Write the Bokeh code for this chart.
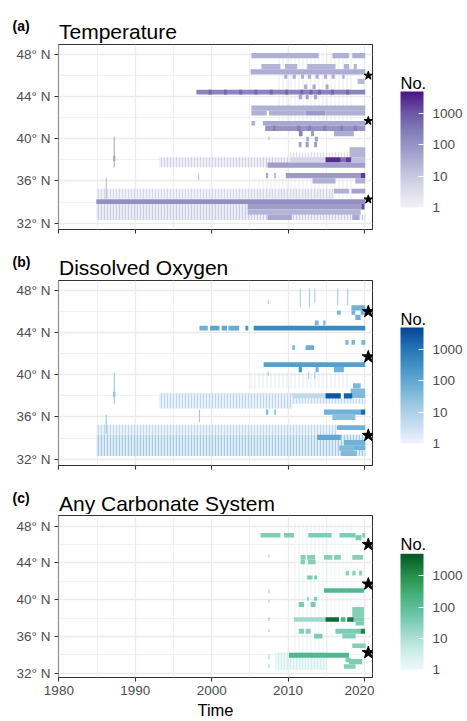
import numpy as np
from bokeh.plotting import figure
from bokeh.layouts import column, row
from bokeh.models import (ColumnDataSource, LogColorMapper, ColorBar, FixedTicker,
                          Range1d, BasicTickFormatter)
from bokeh.core.properties import value
from bokeh.transform import transform
from bokeh.embed import file_html
from bokeh.resources import INLINE

# ---------------- data ----------------
year_ticks = [1980, 1990, 2000, 2010, 2020]
year_minor = [1985, 1995, 2005, 2015]
lat_ticks = [32, 36, 40, 44, 48]
lat_minor = [34, 38, 42, 46]
lat_labels = ["32° N", "36° N", "40° N", "44° N", "48° N"]
legend_ticks = [1, 10, 100, 1000]
star_t = [2020.5, 2020.5, 2020.5]
star_lat = [46.0, 41.7, 34.25]

# ---- (a) Temperature: blocks of observations ----
a_t0 = [2005.2, 2015.8, 2018.4, 2006.5, 2009.6, 2012.5, 2017.3, 2018.6, 2005.1,
        2009.5, 2010.6, 2011.7, 2012.6, 2013.6, 2014.7, 2015.7, 2017.1, 2019.1,
        2012.1, 2013.2, 2014.9, 1998.0,
        1999.6, 2001.6, 2003.6, 2005.6, 2007.6, 2009.6, 2011.6, 2012.8, 2013.9, 2015.6, 2017.6,
        2011.4, 2012.3, 2013.4, 2005.2, 2005.2, 2007.5, 2012.3, 2014.9, 2005.2, 2006.7, 2007.0,
        2008.0, 2011.2, 2012.6, 2014.6, 2016.8, 2018.6,
        2011.4, 2013.0, 2016.0, 2012.4, 2013.5, 2011.4, 2012.3, 2013.4, 2018.05,
        2010.3, 2014.9, 2016.9, 2017.5, 2018.3, 2007.3, 2007.1, 2008.2, 2009.7, 2019.5,
        2013.2, 2018.8, 2016.0, 2018.3, 1984.9, 2004.7, 2019.6, 2004.7, 2007.3, 2018.4, 1987.1]
a_t1 = [2014.0, 2018.0, 2020.1, 2009.0, 2011.2, 2016.2, 2018.0, 2019.0, 2020.1,
        2009.9, 2011.0, 2012.1, 2013.0, 2014.0, 2015.1, 2016.1, 2017.4, 2020.0,
        2012.5, 2013.6, 2015.3, 2020.1,
        2000.0, 2002.0, 2004.0, 2006.0, 2008.0, 2010.0, 2012.0, 2013.2, 2014.3, 2016.0, 2018.0,
        2011.8, 2012.7, 2013.8, 2020.1, 2007.2, 2012.3, 2014.9, 2020.1, 2005.7, 2020.1, 2020.1,
        2008.4, 2011.6, 2013.0, 2015.0, 2017.2, 2019.0,
        2011.9, 2013.4, 2018.6, 2012.7, 2013.9, 2011.75, 2012.7, 2013.8, 2020.1,
        2014.9, 2016.9, 2017.5, 2018.3, 2020.1, 2020.1, 2007.4, 2008.4, 2019.5, 2020.1,
        2016.2, 2020.1, 2018.0, 2020.1, 2020.1, 2019.6, 2020.0, 2019.5, 2010.5, 2019.3, 1987.4]
a_lat0 = [47.65, 47.65, 47.65, 46.6, 46.6, 46.6, 46.6, 46.6, 46.1,
          45.7, 45.7, 45.7, 45.7, 45.7, 45.7, 45.7, 45.7, 45.2,
          44.7, 44.7, 44.7, 44.2,
          44.2, 44.2, 44.2, 44.2, 44.2, 44.2, 44.2, 44.2, 44.2, 44.2, 44.2,
          43.75, 43.75, 43.75, 42.65, 42.2, 42.2, 42.2, 42.2, 41.25, 41.25, 40.75,
          40.75, 40.75, 40.75, 40.75, 40.75, 40.75,
          40.25, 40.25, 40.25, 39.75, 39.75, 39.2, 39.2, 39.2, 38.25,
          37.75, 37.75, 37.75, 37.75, 37.75, 37.25, 36.25, 36.25, 36.25, 36.25,
          35.75, 35.75, 34.8, 34.8, 33.8, 33.3, 33.3, 32.8, 32.3, 32.3, 37.9]
a_lat1 = [48.15, 48.15, 48.15, 47.1, 47.1, 47.1, 47.1, 47.1, 46.6,
          46.1, 46.1, 46.1, 46.1, 46.1, 46.1, 46.1, 46.1, 45.7,
          45.15, 45.15, 45.15, 44.65,
          44.65, 44.65, 44.65, 44.65, 44.65, 44.65, 44.65, 44.65, 44.65, 44.65, 44.65,
          44.2, 44.2, 44.2, 43.15, 42.65, 42.65, 42.65, 42.65, 41.7, 41.7, 41.25,
          41.25, 41.25, 41.25, 41.25, 41.25, 41.25,
          40.75, 40.75, 40.75, 40.2, 40.2, 39.7, 39.7, 39.7, 39.2,
          38.25, 38.25, 38.25, 38.25, 38.25, 37.75, 36.75, 36.75, 36.75, 36.75,
          36.25, 36.25, 35.25, 35.25, 34.25, 33.8, 33.8, 33.3, 32.8, 32.8, 38.4]
a_n = [30, 30, 30, 25, 25, 25, 25, 25, 35,
       35, 35, 35, 35, 35, 35, 35, 35, 20,
       40, 40, 40, 200,
       600, 600, 600, 600, 600, 600, 600, 600, 600, 600, 600,
       50, 50, 50, 30, 30, 30, 70, 30, 30, 40, 100,
       250, 250, 250, 250, 250, 250,
       200, 60, 35, 60, 60, 60, 60, 60, 25,
       5, 3000, 400, 2000, 15, 60, 40, 40, 70, 2000,
       30, 30, 30, 50, 120, 60, 1500, 25, 40, 40, 40]

# (a) striped regions (repeated cruise lines)
a_st_t0 = [1984.9, 2004.7, 1984.9, 1993.1, 2010.3]
a_st_t1 = [2004.7, 2020.1, 2016.0, 2010.3, 2020.1]
a_st_lat0 = [32.3, 32.3, 34.3, 37.3, 38.25]
a_st_lat1 = [33.8, 32.8, 35.25, 38.25, 38.7]
a_st_n = [8, 8, 5, 6, 4]
a_st_bg = [3, 2, 2, 2, 1]
# (a) faint scattered profiles
a_fa_t0 = [2008.5, 2006.0]
a_fa_t1 = [2018.5, 2018.5]
a_fa_lat0 = [41.7, 34.3]
a_fa_lat1 = [48.2, 36.2]
a_fa_n = [4, 4]

# (a) isolated thin profiles
a_ln_t = [1987.25, 1986.2, 1998.3, 2007.5]
a_ln_lat0 = [37.3, 34.3, 36.1, 39.9]
a_ln_lat1 = [40.2, 36.3, 36.7, 40.2]
a_ln_n = [40, 20, 15, 30]

# ---- (b) Dissolved Oxygen ----
b_t0 = [2018.3, 2018.3, 2019.5, 2018.8, 2016.4, 2013.5, 2014.6,
        1998.4, 1999.8, 2001.3, 2002.2, 2004.4, 2005.5,
        2017.5, 2018.3, 2019.6, 2010.55, 2012.3, 2006.8, 2011.4, 2013.6, 2016.0,
        2018.5, 2018.2, 2010.55, 2014.9, 2017.3, 2007.1, 2008.2, 2014.7, 2019.5,
        2015.8, 2016.4, 2013.8, 2017.3, 2018.6, 2016.7, 2016.9, 1987.1]
b_t1 = [2020.1, 2018.8, 2020.1, 2019.5, 2016.9, 2014.0, 2014.9,
        1999.5, 2001.0, 2002.0, 2003.6, 2004.8, 2020.1,
        2017.9, 2018.75, 2020.1, 2010.9, 2013.4, 2020.1, 2011.8, 2014.0, 2017.3,
        2019.5, 2020.1, 2014.9, 2016.9, 2018.4, 2007.4, 2008.4, 2019.5, 2020.1,
        2018.8, 2020.1, 2016.9, 2020.1, 2020.1, 2018.6, 2019.0, 1987.4]
b_lat0 = [46.1, 45.7, 45.7, 45.2, 45.7, 44.7, 44.7,
          44.2, 44.2, 44.2, 44.2, 44.2, 44.2,
          42.85, 42.85, 42.85, 42.35, 42.35, 40.75, 40.25, 40.25, 40.25,
          38.7, 37.8, 37.75, 37.75, 37.75, 36.2, 36.2, 36.2, 36.2,
          35.7, 34.75, 33.8, 33.3, 32.85, 32.8, 32.3, 37.9]
b_lat1 = [46.6, 46.1, 46.1, 45.7, 46.1, 45.15, 45.15,
          44.65, 44.65, 44.65, 44.65, 44.65, 44.65,
          43.3, 43.3, 43.3, 42.8, 42.8, 41.2, 40.75, 40.75, 40.75,
          39.2, 38.7, 38.25, 38.25, 38.25, 36.7, 36.7, 36.7, 36.7,
          36.2, 35.2, 34.3, 33.8, 33.3, 33.3, 32.8, 38.4]
b_n = [60, 60, 60, 60, 40, 50, 50,
       60, 120, 100, 80, 200, 400,
       50, 50, 50, 40, 70, 150, 300, 50, 60,
       40, 40, 5, 3000, 2000, 40, 40, 60, 1500,
       30, 60, 100, 60, 60, 40, 40, 25]

b_st_t0 = [1984.9, 1984.9, 1993.1, 2010.55]
b_st_t1 = [2020.1, 2016.4, 2010.55, 2020.1]
b_st_lat0 = [32.3, 34.3, 36.8, 37.25]
b_st_lat1 = [34.3, 35.25, 38.25, 37.75]
b_st_n = [15, 5, 6, 5]
b_st_bg = [4, 2, 2, 2]
b_fa_t0 = [2005.0]
b_fa_t1 = [2018.0]
b_fa_lat0 = [38.7]
b_fa_lat1 = [40.2]
b_fa_n = [4]

b_ln_t = [2011.6, 2012.8, 2013.5, 2016.5, 2017.8, 2007.4, 1987.25, 1986.2, 1998.4,
          2007.4, 2013.5, 2012.7]
b_ln_lat0 = [46.4, 46.4, 46.8, 46.6, 46.6, 46.7, 37.25, 34.4, 35.5, 39.9, 39.6, 39.6]
b_ln_lat1 = [48.2, 48.2, 48.2, 48.2, 48.2, 47.1, 40.2, 36.2, 36.7, 40.3, 40.3, 40.3]
b_ln_n = [12, 12, 12, 12, 12, 12, 20, 20, 15, 20, 15, 15]

# ---- (c) Any Carbonate System ----
c_t0 = [2006.4, 2009.46, 2012.64, 2016.74, 2018.84, 2019.7,
        2011.64, 2012.51, 2014.7, 2016.0, 2018.4, 2011.64, 2012.6,
        2017.53, 2018.4, 2019.28, 2012.5, 2013.43, 2014.7,
        2012.5, 2013.4, 2011.4, 2012.95, 2018.4,
        2010.77, 2014.9, 2016.9, 2017.75, 2018.6, 2018.84,
        2011.42, 2012.3, 2016.2, 2019.5, 2013.4, 2017.1, 2018.4,
        2010.11, 2017.53, 2017.97, 2017.3]
c_t1 = [2009.0, 2010.77, 2015.7, 2018.84, 2019.6, 2020.1,
        2012.3, 2013.52, 2015.8, 2016.9, 2019.8, 2012.2, 2013.6,
        2017.97, 2018.84, 2019.71, 2013.2, 2013.8, 2019.93,
        2012.7, 2013.8, 2012.1, 2013.6, 2019.93,
        2014.9, 2016.66, 2017.5, 2018.6, 2019.93, 2019.93,
        2012.08, 2012.95, 2019.5, 2020.06, 2014.5, 2018.84, 2020.15,
        2017.97, 2018.2, 2019.71, 2018.84]
c_lat0 = [46.75, 46.75, 46.75, 46.75, 46.45, 46.75,
          44.35, 44.35, 44.35, 44.35, 44.35, 43.85, 43.85,
          42.62, 42.62, 42.62, 42.2, 42.2, 40.75,
          39.9, 39.9, 39.2, 39.2, 38.1,
          37.6, 37.6, 37.6, 37.6, 37.6, 37.2,
          36.3, 36.3, 36.3, 36.3, 35.8, 35.8, 34.75,
          33.7, 33.2, 33.0, 32.5]
c_lat1 = [47.25, 47.25, 47.25, 47.25, 47.0, 47.25,
          44.85, 44.85, 44.85, 44.85, 44.85, 44.35, 44.35,
          43.16, 43.16, 43.16, 42.62, 42.62, 41.25,
          40.3, 40.3, 39.75, 39.75, 39.2,
          38.1, 38.1, 38.1, 38.1, 38.1, 37.6,
          36.85, 36.85, 36.85, 36.85, 36.3, 36.3, 35.25,
          34.25, 33.7, 33.55, 33.0]
c_n = [35, 35, 35, 35, 40, 35,
       30, 30, 30, 30, 30, 30, 30,
       25, 25, 25, 40, 40, 150,
       40, 40, 40, 40, 30,
       15, 3000, 200, 2000, 40, 40,
       30, 30, 40, 1500, 40, 30, 30,
       150, 40, 40, 30]

c_st_t0 = [2008.37]
c_st_t1 = [2015.13]
c_st_lat0 = [32.4]
c_st_lat1 = [34.3]
c_st_n = [3]
c_st_bg = [2]
c_fa_t0 = [2010.5, 2015.5]
c_fa_t1 = [2015.5, 2018.5]
c_fa_lat0 = [34.3, 37.0]
c_fa_lat1 = [48.3, 48.3]
c_fa_n = [3, 2]

c_ln_t = [2007.5, 2007.5, 2007.5, 2007.5, 2007.5, 2007.5, 2007.5]
c_ln_lat0 = [44.6, 40.7, 39.7, 37.7, 36.5, 33.5, 32.6]
c_ln_lat1 = [44.9, 41.1, 40.0, 38.1, 36.8, 34.0, 33.0]
c_ln_n = [25, 25, 25, 25, 25, 25, 25]

# colour scales (ColorBrewer, light -> dark)
purples = ['#f2f0f7', '#dadaeb', '#bcbddc', '#9e9ac8', '#807dba', '#6a51a3', '#4a1486']
blues = ['#eff3ff', '#c6dbef', '#9ecae1', '#6baed6', '#4292c6', '#2171b5', '#084594']
bugn = ['#edf8fb', '#ccece6', '#99d8c9', '#66c2a4', '#41ae76', '#238b45', '#005824']

FONT = "Liberation Sans"
W_MAIN = 374
W_LEG = 467 - W_MAIN


def smooth_palette(cols, n=256):
    rgb = np.array([[int(c[i:i + 2], 16) for i in (1, 3, 5)] for c in cols], float)
    xs = np.linspace(0, 1, len(cols))
    out = []
    for v in np.linspace(0, 1, n):
        r, g, b = (np.interp(v, xs, rgb[:, k]) for k in range(3))
        out.append("#%02x%02x%02x" % (int(round(r)), int(round(g)), int(round(b))))
    return out


def blank_fig(w, h, xr, yr):
    f = figure(frame_width=w, frame_height=h, x_range=xr, y_range=yr,
               x_axis_type=None, y_axis_type=None, output_backend="svg",
               toolbar_location=None, min_border=0,
               background_fill_color="white", border_fill_color="white")
    f.outline_line_color = None
    return f


def make_header(letter, title, h, base_letter, base_title):
    f = blank_fig(467, h, Range1d(0, 467), Range1d(h, 0))
    f.text(x=[12], y=[base_letter], text=[letter], text_font=value(FONT),
           text_font_style="bold", text_font_size="14px", text_baseline="alphabetic",
           text_color="black")
    f.text(x=[58.5], y=[base_title], text=[title], text_font=value(FONT),
           text_font_size="21px", text_baseline="alphabetic", text_color="black")
    return f


def make_panel(pal, blk, stp, fai, lns, star_size, fh, bot_b, show_x, ylo, yhi,
               cb_y, title_base):
    mapper = LogColorMapper(palette=smooth_palette(pal), low=1, high=5000)
    p = figure(frame_width=314, frame_height=fh,
               x_range=Range1d(1979.95, 2021.05), y_range=Range1d(ylo, yhi),
               output_backend="svg", toolbar_location=None,
               min_border_left=58, min_border_right=W_MAIN - 58 - 314,
               min_border_top=1, min_border_bottom=bot_b,
               background_fill_color="white", border_fill_color="white")
    p.outline_line_color = "#333333"
    p.outline_line_width = 1.1

    for g, tk, mn in ((p.xgrid, year_ticks, year_minor), (p.ygrid, lat_ticks, lat_minor)):
        g.ticker = FixedTicker(ticks=tk, minor_ticks=mn)
        g.grid_line_color = "#ebebeb"
        g.grid_line_width = 1.3
        g.minor_grid_line_color = "#ebebeb"
        g.minor_grid_line_width = 0.7

    p.xaxis.ticker = FixedTicker(ticks=year_ticks)
    p.yaxis.ticker = FixedTicker(ticks=lat_ticks)
    p.yaxis.major_label_overrides = {t: l for t, l in zip(lat_ticks, lat_labels)}
    for ax in (p.xaxis, p.yaxis):
        ax.axis_line_color = None
        ax.major_tick_line_color = "#333333"
        ax.major_tick_line_width = 1.1
        ax.major_tick_out = 4
        ax.major_tick_in = 0
        ax.minor_tick_line_color = None
        ax.major_label_text_font = FONT
        ax.major_label_text_color = "#4d4d4d"
        ax.major_label_text_font_size = "13.5px"
    p.yaxis.major_label_standoff = 4
    if show_x:
        p.xaxis.major_label_standoff = 4
        p.xaxis.axis_label = "Time"
        p.xaxis.axis_label_text_font = FONT
        p.xaxis.axis_label_text_font_size = "16.5px"
        p.xaxis.axis_label_text_font_style = "normal"
        p.xaxis.axis_label_text_color = "black"
        p.xaxis.axis_label_standoff = 3
    else:
        p.xaxis.major_label_overrides = {t: "" for t in year_ticks}
        p.xaxis.major_label_standoff = 0

    st = ColumnDataSource(dict(t0=stp[0], t1=stp[1], lat0=stp[2], lat1=stp[3], n=stp[4], bg=stp[5]))
    p.quad(left="t0", right="t1", bottom="lat0", top="lat1", source=st,
           fill_color=transform("bg", mapper), fill_alpha=0.55, line_color=None,
           hatch_pattern="vertical_line", hatch_color=transform("n", mapper),
           hatch_scale=3, hatch_weight=1.2)

    fa = ColumnDataSource(dict(t0=fai[0], t1=fai[1], lat0=fai[2], lat1=fai[3], n=fai[4]))
    p.quad(left="t0", right="t1", bottom="lat0", top="lat1", source=fa,
           fill_alpha=0, line_color=None,
           hatch_pattern="vertical_line", hatch_color=transform("n", mapper),
           hatch_scale=4, hatch_weight=0.8, hatch_alpha=0.7)

    ln = ColumnDataSource(dict(t=lns[0], lat0=lns[1], lat1=lns[2], n=lns[3]))
    p.vbar(x="t", width=0.14, bottom="lat0", top="lat1", source=ln,
           fill_color=transform("n", mapper), line_color=None)

    bk = ColumnDataSource(dict(t0=blk[0], t1=blk[1], lat0=blk[2], lat1=blk[3], n=blk[4]))
    p.quad(left="t0", right="t1", bottom="lat0", top="lat1", source=bk,
           fill_color=transform("n", mapper), line_color=None)

    p.scatter(star_t, star_lat, marker="star", size=star_size, color="black")

    # legend figure with the colour bar
    lh = 1 + fh + bot_b
    lg = blank_fig(W_LEG, lh, Range1d(0, W_LEG), Range1d(lh, 0))
    cb = ColorBar(color_mapper=mapper, ticker=FixedTicker(ticks=legend_ticks),
                  formatter=BasicTickFormatter(use_scientific=False),
                  orientation="vertical", width=23, height=116, title=None,
                  label_standoff=9,
                  major_label_text_font=FONT, major_label_text_font_size="13.5px",
                  major_label_text_color="#4d4d4d",
                  major_tick_line_color="white", major_tick_in=5, major_tick_out=0,
                  bar_line_color=None, border_line_color=None,
                  background_fill_color=None, padding=0, margin=0,
                  location=(26, cb_y))
    lg.add_layout(cb, "center")
    lg.text(x=[26], y=[title_base], text=["No."], text_font=value(FONT),
            text_font_size="16.5px", text_baseline="alphabetic", text_color="black")
    return row(p, lg, spacing=0)


ha = make_header("(a)", "Temperature", 43, 25.5, 30.7)
ra = make_panel(purples, (a_t0, a_t1, a_lat0, a_lat1, a_n),
                (a_st_t0, a_st_t1, a_st_lat0, a_st_lat1, a_st_n, a_st_bg),
                (a_fa_t0, a_fa_t1, a_fa_lat0, a_fa_lat1, a_fa_n),
                (a_ln_t, a_ln_lat0, a_ln_lat1, a_ln_n), 9, 185, 7, False,
                31.39, 48.95, 30, 38.3)
hb = make_header("(b)", "Dissolved Oxygen", 43, 25.5, 30.7)
rb = make_panel(blues, (b_t0, b_t1, b_lat0, b_lat1, b_n),
                (b_st_t0, b_st_t1, b_st_lat0, b_st_lat1, b_st_n, b_st_bg),
                (b_fa_t0, b_fa_t1, b_fa_lat0, b_fa_lat1, b_fa_n),
                (b_ln_t, b_ln_lat0, b_ln_lat1, b_ln_n), 13, 185, 7, False,
                31.39, 48.95, 30, 38.3)
hc = make_header("(c)", "Any Carbonate System", 42, 25.0, 30.7)
rc = make_panel(bugn, (c_t0, c_t1, c_lat0, c_lat1, c_n),
                (c_st_t0, c_st_t1, c_st_lat0, c_st_lat1, c_st_n, c_st_bg),
                (c_fa_t0, c_fa_t1, c_fa_lat0, c_fa_lat1, c_fa_n),
                (c_ln_t, c_ln_lat0, c_ln_lat1, c_ln_n), 13, 162, 44, True,
                31.55, 49.15, 52.7, 28.0)

layout = column(ha, ra, hb, rb, hc, rc, spacing=0)
open("out.html", "w").write(file_html(layout, INLINE))
